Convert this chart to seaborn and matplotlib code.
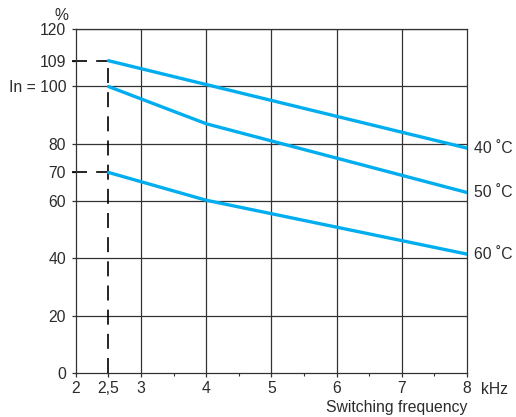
import pandas as pd
import matplotlib
matplotlib.use('Agg')
import matplotlib.pyplot as plt
import seaborn as sns

# derating curves, % of In vs switching frequency (kHz)
freq_40 = [2.5, 8]
pct_40 = [109, 78.5]
freq_50 = [2.5, 4, 8]
pct_50 = [100, 87, 63]
freq_60 = [2.5, 4, 8]
pct_60 = [70, 60.3, 41.5]
curve_labels = ['40 ˚C', '50 ˚C', '60 ˚C']

ref_freq = 2.5
ref_levels = [109, 70]

x_ticks = [2, 2.5, 3, 4, 5, 6, 7, 8]
x_ticklabels = ['2', '2,5', '3', '4', '5', '6', '7', '8']
x_minor = [3.5, 4.5, 5.5, 6.5, 7.5]
y_ticks = [0, 20, 40, 60, 70, 80, 100, 109, 120]
y_ticklabels = ['0', '20', '40', '60', '70', '80', 'In = 100', '109', '120']
grid_x = [3, 4, 5, 6, 7]
grid_y = [20, 40, 60, 80, 100, 120]

df = pd.concat([
    pd.DataFrame({'freq': freq_40, 'pct': pct_40, 'temp': curve_labels[0]}),
    pd.DataFrame({'freq': freq_50, 'pct': pct_50, 'temp': curve_labels[1]}),
    pd.DataFrame({'freq': freq_60, 'pct': pct_60, 'temp': curve_labels[2]}),
])

sns.set_style('white')
plt.rcParams['font.family'] = ['Liberation Sans', 'DejaVu Sans']
fs = 11.3

txt = '#2b2b2b'
gridc = '#333333'
blue = '#00aeef'

fig = plt.figure(figsize=(5.16, 4.17), dpi=100)
ax = fig.add_axes([0.147, 0.1055, 0.758, 0.8245])

for gx in grid_x:
    ax.axvline(gx, color=gridc, lw=0.9, zorder=1)
for gy in grid_y:
    ax.axhline(gy, color=gridc, lw=0.9, zorder=1)

sns.lineplot(data=df, x='freq', y='pct', units='temp', estimator=None,
             color=blue, lw=2.4, ax=ax, zorder=3, legend=False)

# reference dashes
ax.plot([ref_freq, ref_freq], [0, ref_levels[0]], color='black', lw=1.2,
        dashes=(9, 5.5), zorder=2)
for lv in ref_levels:
    ax.plot([1.94, ref_freq], [lv, lv], color='black', lw=1.2,
            dashes=(9, 5.5), zorder=2, clip_on=False)

for lab, fx, py in [(curve_labels[0], freq_40, pct_40),
                    (curve_labels[1], freq_50, pct_50),
                    (curve_labels[2], freq_60, pct_60)]:
    ax.annotate(lab, (fx[-1], py[-1]), xytext=(5, 0), textcoords='offset points',
                ha='left', va='center', color=txt, fontsize=fs)

ax.set_xlim(2, 8)
ax.set_ylim(0, 120)
ax.set_xticks(x_ticks)
ax.set_xticklabels(x_ticklabels)
ax.set_xticks(x_minor, minor=True)
ax.set_yticks(y_ticks)
ax.set_yticklabels(y_ticklabels)
ax.tick_params(axis='both', which='major', direction='out', length=3,
               width=0.9, color=gridc, labelcolor=txt, labelsize=fs, pad=3,
               bottom=True, left=True)
ax.tick_params(axis='x', which='minor', direction='out', length=2,
               width=0.8, color=gridc, bottom=True)
ax.tick_params(axis='y', pad=4)
ax.set_xlabel('')
ax.set_ylabel('')
for sp in ax.spines.values():
    sp.set_color(gridc)
    sp.set_linewidth(0.9)

ax.text(-0.036, 1.04, '%', transform=ax.transAxes, ha='center', va='center',
        color=txt, fontsize=fs)
ax.text(1.036, -0.047, 'kHz', transform=ax.transAxes, ha='left', va='center',
        color=txt, fontsize=fs)
ax.text(1.0, -0.099, 'Switching frequency', transform=ax.transAxes,
        ha='right', va='center', color=txt, fontsize=fs)

fig.savefig('out.png', dpi=100)
